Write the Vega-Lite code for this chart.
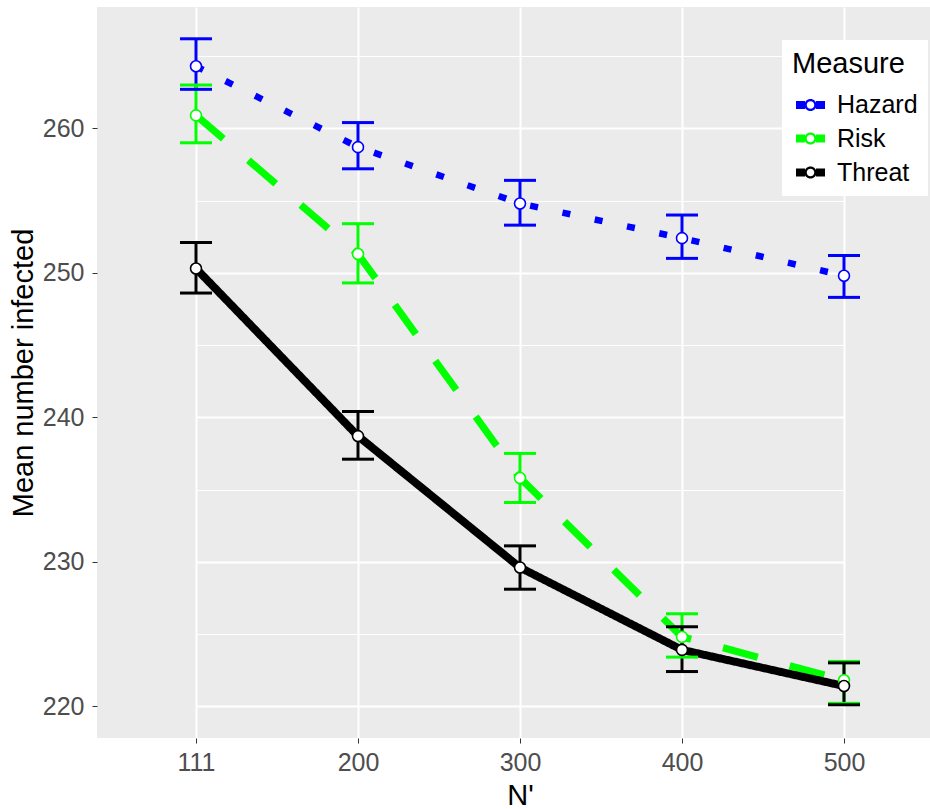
{
  "$schema": "https://vega.github.io/schema/vega-lite/v6.json",
  "width": 833,
  "height": 731,
  "autosize": {"type": "none"},
  "padding": {"left": 97, "top": 7, "right": 0, "bottom": 71},
  "background": "white",
  "config": {
    "view": {"fill": "#EBEBEB", "stroke": null},
    "font": "Liberation Sans",
    "axis": {
      "labelFont": "Liberation Sans",
      "titleFont": "Liberation Sans",
      "labelFontSize": 25,
      "labelColor": "#4D4D4D",
      "titleFontSize": 29,
      "titleFontWeight": "normal",
      "titleColor": "black",
      "domain": false,
      "tickColor": "#333333",
      "tickSize": 5,
      "tickWidth": 1,
      "gridColor": "white",
      "gridWidth": 2
    },
    "legend": {
      "labelFont": "Liberation Sans",
      "titleFont": "Liberation Sans"
    }
  },
  "data": {
    "values": [
      {"N": "111", "Measure": "Hazard", "mean": 264.3, "lo": 262.7, "hi": 266.2},
      {"N": "200", "Measure": "Hazard", "mean": 258.7, "lo": 257.2, "hi": 260.4},
      {"N": "300", "Measure": "Hazard", "mean": 254.8, "lo": 253.3, "hi": 256.4},
      {"N": "400", "Measure": "Hazard", "mean": 252.4, "lo": 251.0, "hi": 254.0},
      {"N": "500", "Measure": "Hazard", "mean": 249.8, "lo": 248.3, "hi": 251.2},
      {"N": "111", "Measure": "Risk", "mean": 260.9, "lo": 259.0, "hi": 263.0},
      {"N": "200", "Measure": "Risk", "mean": 251.3, "lo": 249.3, "hi": 253.4},
      {"N": "300", "Measure": "Risk", "mean": 235.8, "lo": 234.1, "hi": 237.5},
      {"N": "400", "Measure": "Risk", "mean": 224.8, "lo": 223.4, "hi": 226.4},
      {"N": "500", "Measure": "Risk", "mean": 221.8, "lo": 220.2, "hi": 223.1},
      {"N": "111", "Measure": "Threat", "mean": 250.3, "lo": 248.6, "hi": 252.1},
      {"N": "200", "Measure": "Threat", "mean": 238.7, "lo": 237.1, "hi": 240.4},
      {"N": "300", "Measure": "Threat", "mean": 229.6, "lo": 228.1, "hi": 231.1},
      {"N": "400", "Measure": "Threat", "mean": 223.9, "lo": 222.4, "hi": 225.5},
      {"N": "500", "Measure": "Threat", "mean": 221.4, "lo": 220.1, "hi": 223.0}
    ]
  },
  "encoding": {
    "x": {
      "field": "N",
      "type": "ordinal",
      "sort": ["111", "200", "300", "400", "500"],
      "scale": {"type": "point", "range": [99, 747], "padding": 0},
      "axis": {"title": "N'", "labelAngle": 0, "labelPadding": 7, "titlePadding": 6, "grid": true}
    },
    "color": {
      "field": "Measure",
      "type": "nominal",
      "scale": {"domain": ["Hazard", "Risk", "Threat"], "range": ["#0000FF", "#00FF00", "#000000"]},
      "legend": {
        "title": "Measure",
        "orient": "none",
        "legendX": 685,
        "legendY": 33,
        "fillColor": "white",
        "padding": 10,
        "titleFontSize": 29,
        "titleFontWeight": "normal",
        "titleColor": "black",
        "labelFontSize": 25,
        "labelColor": "black",
        "symbolType": "M-1,-0.27H-0.38V0.27H-1ZM0.38,-0.27H1V0.27H0.38ZM0.42,0A0.42,0.42 0 1,1 -0.42,0A0.42,0.42 0 1,1 0.42,0ZM0.26,0A0.26,0.26 0 1,0 -0.26,0A0.26,0.26 0 1,0 0.26,0Z",
        "symbolSize": 841,
        "symbolStrokeWidth": 0,
        "rowPadding": 2,
        "labelOffset": 8,
        "titlePadding": 8,
        "encode": {
          "symbols": {
            "update": {
              "fill": {"scale": "color", "field": "value"},
              "fillOpacity": {"value": 1},
              "strokeOpacity": {"value": 0},
              "strokeWidth": {"value": 0},
              "strokeDash": {"value": []},
              "opacity": {"value": 1}
            }
          }
        }
      }
    }
  },
  "layer": [
    {
      "mark": {"type": "line", "strokeCap": "butt"},
      "encoding": {
        "y": {
          "field": "mean",
          "type": "quantitative",
          "scale": {"domain": [217.8, 268.4], "nice": false, "zero": false},
          "axis": {"title": "Mean number infected", "values": [220, 230, 240, 250, 260], "labelPadding": 8, "titlePadding": 4, "orient": "left"}
        },
        "strokeDash": {
          "field": "Measure",
          "type": "nominal",
          "scale": {"domain": ["Hazard", "Risk", "Threat"], "range": [[8, 25], [36, 33], [1, 0]]},
          "legend": null
        },
        "strokeWidth": {
          "field": "Measure",
          "type": "ordinal",
          "scale": {"domain": ["Hazard", "Risk", "Threat"], "range": [6.5, 8, 9]},
          "legend": null
        }
      }
    },
    {
      "mark": {"type": "rule", "strokeWidth": 3, "opacity": 1},
      "encoding": {
        "y": {"field": "lo", "type": "quantitative", "axis": null},
        "y2": {"field": "hi"}
      }
    },
    {
      "mark": {"type": "tick", "size": 32, "thickness": 3, "opacity": 1},
      "encoding": {
        "y": {"field": "lo", "type": "quantitative", "axis": null}
      }
    },
    {
      "mark": {"type": "tick", "size": 32, "thickness": 3, "opacity": 1},
      "encoding": {
        "y": {"field": "hi", "type": "quantitative", "axis": null}
      }
    },
    {
      "mark": {"type": "point", "shape": "circle", "filled": false, "fill": "white", "fillOpacity": 1, "opacity": 1, "size": 120, "strokeWidth": 1.6},
      "encoding": {
        "y": {
          "field": "mean",
          "type": "quantitative",
          "axis": {"orient": "left", "values": [225, 235, 245, 255, 265], "grid": true, "gridWidth": 1, "labels": false, "ticks": false, "title": null, "domain": false}
        }
      }
    }
  ],
  "resolve": {"axis": {"y": "independent"}}
}
